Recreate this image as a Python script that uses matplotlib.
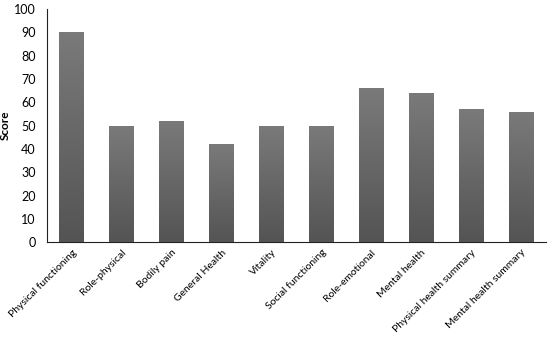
import matplotlib.pyplot as plt
import numpy as np

categories = ["Physical functioning", "Role-physical", "Bodily pain", "General Health",
              "Vitality", "Social functioning", "Role-emotional", "Mental health",
              "Physical health summary", "Mental health summary"]
scores = [90, 50, 52, 42, 50, 50, 66, 64, 57, 56]

plt.rcParams['font.family'] = ['Lato', 'DejaVu Sans']

fig = plt.figure(figsize=(5.5, 3.38), dpi=100)
ax = fig.add_axes([0.085, 0.283, 0.908, 0.69])

x = np.arange(len(categories))
bars = ax.bar(x, scores, width=0.5, color="#666666", edgecolor="none", zorder=2)

# vertical gradient, lighter at the top
grad = np.linspace(0, 1, 256).reshape(-1, 1)
cmap = plt.matplotlib.colors.LinearSegmentedColormap.from_list("g", ["#545454", "#7a7a7a"])
for b in bars:
    x0, w, h = b.get_x(), b.get_width(), b.get_height()
    im = ax.imshow(grad, cmap=cmap, aspect="auto", origin="lower",
                   extent=[x0, x0 + w, 0, h], zorder=3)
    im.set_clip_path(b)

ax.set_xlim(-0.5, 9.5)
ax.set_ylim(0, 100)
ax.set_yticks(range(0, 101, 10))
ax.set_xticks(x)
ax.set_xticklabels(categories, rotation=45, ha="right", rotation_mode="anchor", fontsize=7.5)
ax.tick_params(axis="y", length=0, labelsize=9, pad=8)
ax.tick_params(axis="x", length=0, pad=4)
ax.set_ylabel("Score", fontsize=8.5, fontweight="bold")
ax.yaxis.set_label_coords(-0.072, 0.5)

for s in ["top", "right"]:
    ax.spines[s].set_visible(False)
ax.spines["left"].set_color("#222222")
ax.spines["bottom"].set_color("#222222")

fig.savefig("out.png", dpi=100)
